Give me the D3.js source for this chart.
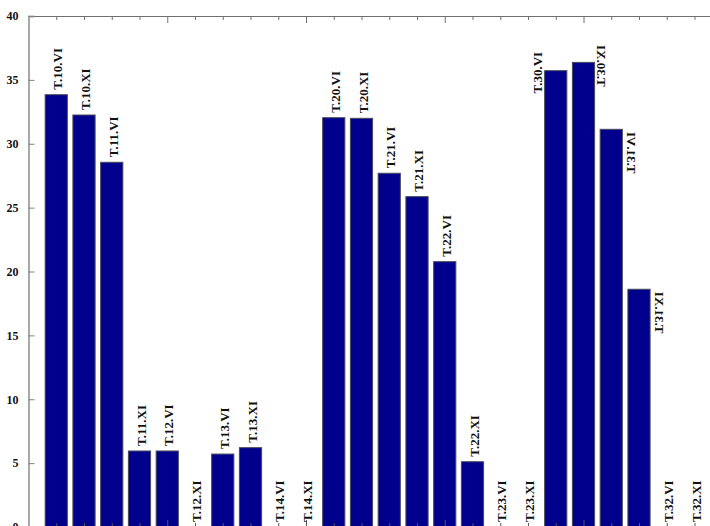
<!DOCTYPE html>
<html>
<head>
<meta charset="utf-8">
<script src="https://cdn.jsdelivr.net/npm/d3@7"></script>
<style>
  html, body { margin: 0; padding: 0; background: #ffffff; }
  svg { display: block; }
</style>
</head>
<body>
<svg id="chart" width="710" height="526"></svg>
<script>
// ---- data ----
const categories = [
  "T.10.VI", "T.10.XI", "T.11.VI", "T.11.XI", "T.12.VI", "T.12.XI",
  "T.13.VI", "T.13.XI", "T.14.VI", "T.14.XI",
  "T.20.VI", "T.20.XI", "T.21.VI", "T.21.XI", "T.22.VI", "T.22.XI",
  "T.23.VI", "T.23.XI",
  "T.30.VI", "T.30.XI", "T.31.VI", "T.31.XI", "T.32.VI", "T.32.XI"
];
const values = [
  33.84, 32.25, 28.55, 5.95, 5.95, 0,
  5.71, 6.21, 0, 0,
  32.04, 31.99, 27.69, 25.86, 20.77, 5.11,
  0, 0,
  35.72, 36.37, 31.13, 18.61, 0, 0
];
// where each bar label sits relative to its bar
const labelPlacement = [
  "above", "above", "above", "above", "above", "above",
  "above", "above", "above", "above",
  "above", "above", "above", "above", "above", "above",
  "above", "above",
  "left", "right-mid", "right-hang", "right-hang", "above", "above"
];
const yTicks = [0, 5, 10, 15, 20, 25, 30, 35, 40];
const xMajorTicks = [0, 5, 10, 15, 20, 25];

// ---- layout ----
const svg = d3.select("#chart");
const x0 = 28.5, step = 27.75;
const x = d3.scaleLinear().domain([0, 25]).range([x0, x0 + 25 * step]);
const y = d3.scaleLinear().domain([0, 40]).range([527, 16]);
const barW = 0.8 * step;
const serif = "'Liberation Serif', 'Times New Roman', Times, serif";

const xMinorTicks = d3.range(0, 26).filter(v => v % 5 !== 0);

// bars
svg.append("g").selectAll("rect")
  .data(values)
  .join("rect")
  .attr("x", (d, i) => x(i + 1) - barW / 2)
  .attr("y", d => y(d))
  .attr("width", barW)
  .attr("height", d => y(0) - y(d))
  .attr("fill", "#00008c")
  .attr("stroke", "#4a4a5a")
  .attr("stroke-width", 1);

// top axis (box) with inward ticks
const topAxisMajor = d3.axisBottom(x).tickValues(xMajorTicks).tickSize(7).tickFormat("");
const topAxisMinor = d3.axisBottom(x).tickValues(xMinorTicks).tickSize(4).tickFormat("");
const gTop = svg.append("g").attr("transform", `translate(0,${y(40)})`);
gTop.call(topAxisMajor);
gTop.append("g").call(topAxisMinor);
gTop.selectAll(".domain").attr("stroke", "#707070");
gTop.selectAll("line").attr("stroke", "#707070");

// bottom axis with inward ticks
const botAxisMajor = d3.axisTop(x).tickValues(xMajorTicks).tickSize(7).tickFormat("");
const botAxisMinor = d3.axisTop(x).tickValues(xMinorTicks).tickSize(4).tickFormat("");
const gBot = svg.append("g").attr("transform", `translate(0,${y(0)})`);
gBot.call(botAxisMajor);
gBot.append("g").call(botAxisMinor);
gBot.selectAll(".domain").attr("stroke", "#707070");
gBot.selectAll("line").attr("stroke", "#555555");

// left axis
const yAxis = d3.axisLeft(y).tickValues(yTicks).tickSize(-6).tickPadding(4 + 6).tickFormat(d3.format("d"));
const gLeft = svg.append("g").attr("transform", `translate(${x(0)},0)`).call(yAxis);
gLeft.select(".domain").attr("stroke", "#a8a8a8").attr("stroke-width", 2);
gLeft.selectAll(".tick line").attr("stroke", "#808080");
gLeft.selectAll(".tick text")
  .attr("font-family", serif)
  .attr("font-weight", "bold")
  .attr("font-size", 12)
  .attr("fill", "#111");

// bar labels (rotated, reading bottom to top)
const gLab = svg.append("g")
  .attr("font-family", serif)
  .attr("font-weight", "bold")
  .attr("font-size", 13)
  .attr("fill", "#111");

categories.forEach((name, i) => {
  const cx = x(i + 1);
  const top = y(values[i]);
  const mode = labelPlacement[i];
  let tx, ty, anchor, mirror = false;
  if (mode === "above") {
    tx = cx + 6; ty = top - 5; anchor = "start";
  } else if (mode === "left") {
    tx = cx - barW / 2 - 3; ty = top + 2; anchor = "middle";
  } else if (mode === "right-mid") {
    tx = cx + barW / 2 + 2.5; ty = top + 3.5; anchor = "middle"; mirror = true;
  } else {
    tx = cx + barW / 2 + 4.5; ty = top + 2.5; anchor = "end"; mirror = true;
  }
  gLab.append("text")
    .attr("transform", `translate(${tx},${ty})` + (mirror ? " scale(-1,1)" : "") + " rotate(-90)")
    .attr("text-anchor", anchor)
    .text(name);
});
</script>
</body>
</html>
